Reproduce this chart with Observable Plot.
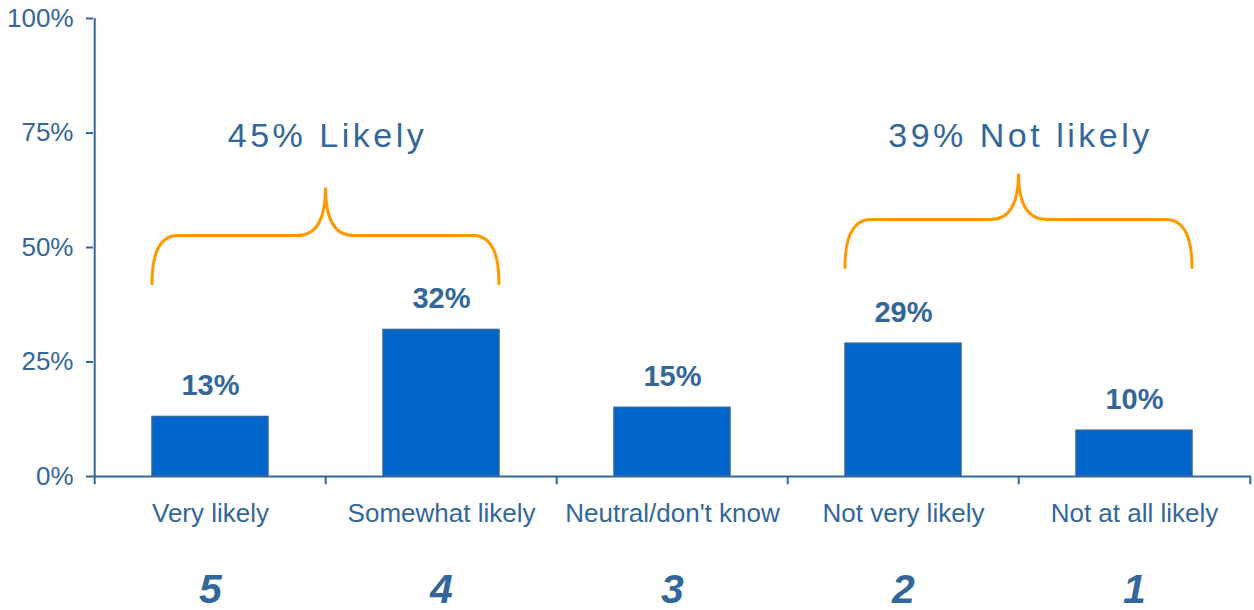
<!DOCTYPE html>
<html><head><meta charset="utf-8">
<script src="https://cdn.jsdelivr.net/npm/d3@7"></script>
<script src="https://cdn.jsdelivr.net/npm/@observablehq/plot@0.6"></script>
<style>
html,body{margin:0;padding:0;background:#fff;}
#chart svg{display:block}
#chart svg g[aria-label="y-axis tick"] path, #chart svg .tick line{stroke-width:2px}
</style>
</head><body><div id="chart"></div>
<script>
const categories = ["Very likely","Somewhat likely","Neutral/don't know","Not very likely","Not at all likely"];
const scores = ["5","4","3","2","1"];
const percents = [13,32,15,29,10];
const yTicks = [0,25,50,75,100];
const groupLabels = ["45% Likely","39% Not likely"];
const groupFrom = ["Very likely","Not very likely"];
const groupTo = ["Somewhat likely","Not at all likely"];
const braceBase = [42,45.5];
const braceMid = [52.5,56];
const braceTop = [63,66];
const groupLabelY = [74.5,74.5];

const W = 1254, H = 610, mL = 93, mR = 3, mT = 18, mB = 134;
const n = categories.length;
const step = (W - mL - mR) / n; // paddingInner .5 + paddingOuter .25 => step = width / n
const blue = "#336699";
const data = categories.map((c, i) => ({category: c, pct: percents[i], score: scores[i]}));

const plot = Plot.plot({
  width: W, height: H,
  marginLeft: mL, marginRight: mR, marginTop: mT, marginBottom: mB,
  style: {fontFamily: "'Liberation Sans', Arial, sans-serif", fontSize: "26px", color: blue, background: "#fff", overflow: "visible"},
  x: {domain: categories, paddingInner: 0.5, paddingOuter: 0.25, tickSize: 0, tickPadding: 27, label: null},
  y: {domain: [0, 100], ticks: yTicks, tickFormat: d => d + "%", tickSize: 7, tickPadding: 13, label: null},
  marks: [
    Plot.barY(data, {x: "category", y: "pct", fill: "#0066CC", stroke: blue, strokeWidth: 1.5}),
    Plot.ruleY([0], {stroke: blue, strokeWidth: 2}),
    Plot.ruleX(categories, {x: d => d, dx: -step / 2, y1: 0, y2: -1.8, stroke: blue, strokeWidth: 2}),
    Plot.ruleX([categories[n - 1]], {x: d => d, dx: step / 2, y1: 0, y2: -1.8, stroke: blue, strokeWidth: 2}),
    Plot.ruleX([categories[0]], {x: d => d, dx: -step / 2, y1: 0, y2: 100, stroke: blue, strokeWidth: 2}),
    Plot.text(data, {x: "category", y: "pct", text: d => d.pct + "%", dy: -31, fontSize: 29, fontWeight: "bold", fill: blue}),
    Plot.text(data, {x: "category", text: "score", frameAnchor: "bottom", lineAnchor: "middle", dy: 113, fontSize: 41, fontWeight: "bold", fontStyle: "italic", fill: blue})
  ]
});
document.getElementById("chart").append(plot);

// Braces and group labels, positioned through the plot's own scales
const xs = plot.scale("x"), ys = plot.scale("y");
const bw = xs.bandwidth;
const xStart = v => {
  if (typeof xs.apply === "function") return xs.apply(v);
  const i = xs.domain.indexOf(v);
  const r0 = xs.range[0];
  return r0 + xs.step * xs.paddingOuter + i * xs.step;
};
const yPos = v => {
  if (typeof ys.apply === "function") return ys.apply(v);
  const [d0, d1] = ys.domain, [r0, r1] = ys.range;
  return r0 + (v - d0) / (d1 - d0) * (r1 - r0);
};
const svg = d3.select(plot);
const g = svg.append("g").attr("aria-label", "braces");
groupLabels.forEach((label, k) => {
  const x0 = xStart(groupFrom[k]);
  const x1 = xStart(groupTo[k]) + bw;
  const xc = (x0 + x1) / 2;
  const yb = yPos(braceBase[k]), ym = yPos(braceMid[k]), yt = yPos(braceTop[k]);
  const c = 26, m = 28;
  const p = `M${x0},${yb} Q${x0},${ym} ${x0 + c},${ym} L${xc - m},${ym} Q${xc},${ym} ${xc},${yt} Q${xc},${ym} ${xc + m},${ym} L${x1 - c},${ym} Q${x1},${ym} ${x1},${yb}`;
  g.append("path").attr("d", p).attr("fill", "none").attr("stroke", "#FF9900").attr("stroke-width", 3).attr("stroke-linecap", "round");
  g.append("text").attr("x", xc + 2).attr("y", yPos(groupLabelY[k])).attr("dy", "0.35em")
    .attr("text-anchor", "middle").attr("font-size", 34).attr("letter-spacing", "3.5px")
    .attr("fill", blue).attr("font-family", "'Liberation Sans', Arial, sans-serif").text(label);
});
</script>
</body></html>
